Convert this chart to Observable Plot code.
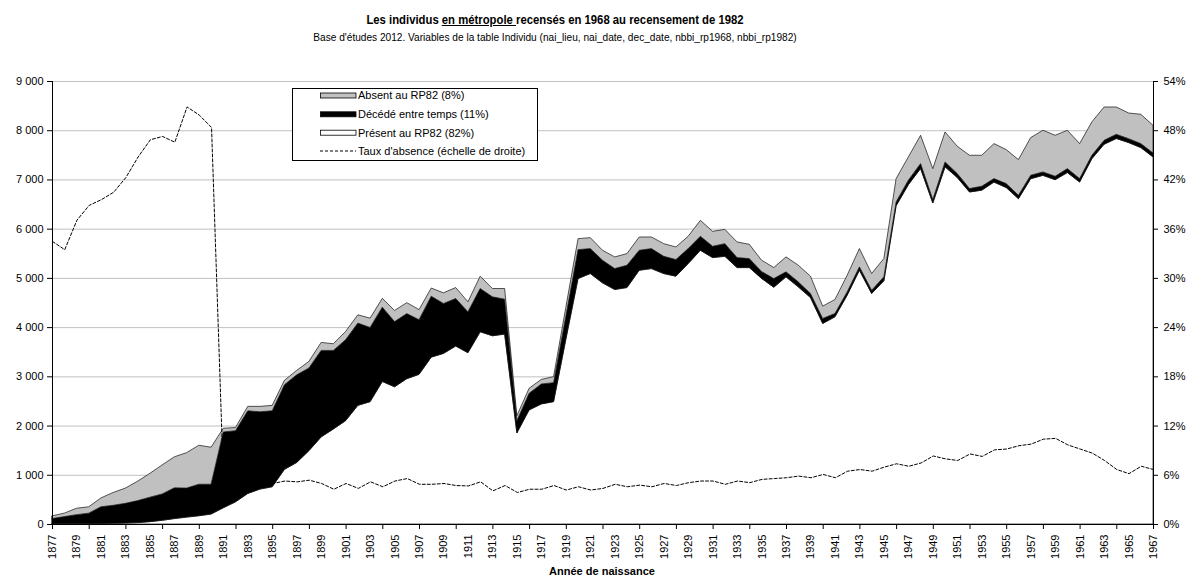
<!DOCTYPE html>
<html><head><meta charset="utf-8">
<script src="https://cdn.jsdelivr.net/npm/d3@7"></script>
<script src="https://cdn.jsdelivr.net/npm/@observablehq/plot@0.6"></script>
<style>
body{margin:0;background:#fff;font-family:"Liberation Sans",Arial,sans-serif;color:#000;}
#wrap{position:relative;width:1192px;height:579px;overflow:hidden;}
#title{position:absolute;left:0;width:1110px;top:13px;text-align:center;font-weight:bold;font-size:13px;line-height:14px;transform:scaleX(0.87);transform-origin:555px 50%;}
#subtitle{position:absolute;left:0;width:1110px;top:31px;text-align:center;font-size:11px;line-height:13px;transform:scaleX(0.92);transform-origin:555px 50%;}
#chart{position:absolute;left:0;top:50px;}
#xlabel{position:absolute;left:0;width:1204px;top:565px;text-align:center;font-weight:bold;font-size:11px;line-height:12px;}
</style></head>
<body><div id="wrap">
<div id="title">Les individus <u>en métropole </u>recensés en 1968 au recensement de 1982</div>
<div id="subtitle">Base d'études 2012. Variables de la table Individu (nai_lieu, nai_date, dec_date, nbbi_rp1968, nbbi_rp1982)</div>
<div id="chart"></div>
<div id="xlabel">Année de naissance</div>
</div>
<script>
const years = [1877,1878,1879,1880,1881,1882,1883,1884,1885,1886,1887,1888,1889,1890,1891,1892,1893,1894,1895,1896,1897,1898,1899,1900,1901,1902,1903,1904,1905,1906,1907,1908,1909,1910,1911,1912,1913,1914,1915,1916,1917,1918,1919,1920,1921,1922,1923,1924,1925,1926,1927,1928,1929,1930,1931,1932,1933,1934,1935,1936,1937,1938,1939,1940,1941,1942,1943,1944,1945,1946,1947,1948,1949,1950,1951,1952,1953,1954,1955,1956,1957,1958,1959,1960,1961,1962,1963,1964,1965,1966,1967];
const present = [5,5,8,10,12,15,20,28,48,75,110,140,168,202,330,450,620,710,757,1110,1250,1490,1770,1930,2100,2410,2485,2895,2788,2952,3040,3390,3466,3615,3480,3905,3824,3858,1850,2318,2439,2486,3750,4986,5088,4899,4764,4804,5155,5189,5088,5034,5290,5561,5412,5439,5209,5209,4990,4810,5021,4818,4601,4074,4209,4649,5157,4683,4940,6464,6894,7222,6521,7256,7039,6745,6782,6947,6836,6609,7015,7083,6995,7140,6947,7421,7715,7832,7749,7648,7458];
const deceased = [105,145,182,210,338,365,400,447,497,535,625,590,640,606,1540,1445,1680,1570,1543,1720,1780,1679,1757,1597,1643,1671,1508,1510,1324,1322,1112,1238,1014,966,831,879,791,710,250,337,406,386,470,588,507,459,425,453,406,406,351,338,305,284,230,257,203,183,140,177,102,102,82,101,68,68,67,67,81,80,90,100,70,100,80,70,80,70,80,70,70,70,70,80,70,70,80,85,80,80,80];
const absent = [55,70,130,130,180,260,310,395,485,590,630,720,792,752,75,65,90,110,110,90,90,135,162,135,169,169,189,180,226,223,203,166,216,223,203,250,169,216,100,102,94,121,180,223,223,203,237,236,270,236,257,256,250,324,304,290,318,290,230,223,304,338,352,251,284,338,372,339,372,473,473,575,629,609,555,676,629,711,690,724,765,846,832,779,711,677,677,555,521,596,562];
const rate = [34.5,33.5,37.1,38.9,39.6,40.5,42.3,44.8,46.9,47.3,46.6,50.9,49.9,48.4,4.2,4.4,4.5,4.8,5.0,5.3,5.2,5.4,5.0,4.3,5.0,4.4,5.2,4.6,5.3,5.6,4.9,4.9,5.0,4.75,4.7,5.2,4.1,4.75,3.9,4.3,4.3,4.75,4.2,4.6,4.2,4.4,4.9,4.6,4.8,4.6,5.0,4.75,5.1,5.3,5.3,4.9,5.3,5.1,5.5,5.6,5.7,5.9,5.7,6.1,5.7,6.5,6.7,6.5,7.0,7.4,7.1,7.5,8.35,8.0,7.8,8.6,8.3,9.1,9.2,9.6,9.8,10.4,10.5,9.7,9.2,8.7,7.8,6.7,6.2,7.1,6.7];
const seriesNames = ["Présent au RP82 (82%)","Décédé entre temps (11%)","Absent au RP82 (8%)"];
const seriesFill = ["#ffffff","#000000","#c0c0c0"];
const leftTicks = [0,1000,2000,3000,4000,5000,6000,7000,8000,9000];
const rightMax = 54; // % at top of right axis
const lineLabel = "Taux d'absence (échelle de droite)";

const long = [];
years.forEach((yr,i)=>{
  long.push({year:yr, series:seriesNames[0], value:present[i]});
  long.push({year:yr, series:seriesNames[1], value:deceased[i]});
  long.push({year:yr, series:seriesNames[2], value:absent[i]});
});
const rateData = years.map((yr,i)=>({year:yr, r:rate[i]}));
const yMax = 9000;
const fmtThousands = d => d3.format(",")(d).replace(/,/g," ");

const chart = Plot.plot({
  width:1192, height:529,
  marginLeft:52, marginRight:39, marginTop:31, marginBottom:55,
  style:{fontFamily:'"Liberation Sans",Arial,sans-serif', fontSize:"11px", color:"#000", background:"#fff", overflow:"visible"},
  x:{domain:[1877,1967]},
  y:{domain:[0,yMax]},
  color:{domain:seriesNames, range:seriesFill},
  marks:[
    Plot.gridY(leftTicks, {stroke:"#c0c0c0", strokeOpacity:1, strokeWidth:1}),
    Plot.areaY(long, {x:"year", y:"value", z:"series", fill:"series", order:seriesNames, stroke:"#111", strokeWidth:0.7, curve:"linear"}),
    Plot.lineY(rateData, {x:"year", y:d=>d.r*yMax/rightMax, stroke:"#000", strokeWidth:1, strokeDasharray:"3,2"}),
    Plot.ruleY([0], {stroke:"#000"}),
    Plot.ruleX([1877,1967], {stroke:"#000"}),
    Plot.axisY({anchor:"left", ticks:leftTicks, tickFormat:fmtThousands, tickSize:5, tickPadding:4, label:null, fontSize:11}),
    Plot.axisY({anchor:"right", ticks:leftTicks, tickFormat:d=>Math.round(d*rightMax/yMax)+"%", tickSize:4, tickPadding:6, label:null, fontSize:11}),
    Plot.axisX({ticks:d3.range(1877,1968,3), tickFormat:()=>"", tickSize:5, label:null}),
    Plot.axisX({ticks:d3.range(1877,1968,2), tickFormat:d=>String(d), tickSize:0, tickPadding:10, tickRotate:-90, label:null, fontSize:11})
  ]
});
document.getElementById("chart").appendChild(chart);

// legend
const svg = d3.select(chart);
const lg = svg.append("g").attr("font-size",11).attr("text-anchor","start").attr("font-family",'"Liberation Sans",Arial,sans-serif');
lg.append("rect").attr("x",292.5).attr("y",38.5).attr("width",245).attr("height",72).attr("fill","#fff").attr("stroke","#000");
const rows = [
  {label:seriesNames[2], fill:seriesFill[2], y:45.5},
  {label:seriesNames[1], fill:seriesFill[1], y:64.3},
  {label:seriesNames[0], fill:seriesFill[0], y:82.7},
];
rows.forEach(r=>{
  lg.append("rect").attr("x",320.5).attr("y",r.y-2.5).attr("width",35.5).attr("height",5).attr("fill",r.fill).attr("stroke","#000").attr("stroke-width",0.8);
  lg.append("text").attr("x",358).attr("y",r.y).attr("dy","0.35em").attr("text-anchor","start").text(r.label);
});
lg.append("line").attr("x1",320).attr("x2",356).attr("y1",101).attr("y2",101).attr("stroke","#000").attr("stroke-dasharray","3,2");
lg.append("text").attr("x",358).attr("y",101).attr("dy","0.35em").attr("text-anchor","start").text(lineLabel);
</script>
</body></html>
